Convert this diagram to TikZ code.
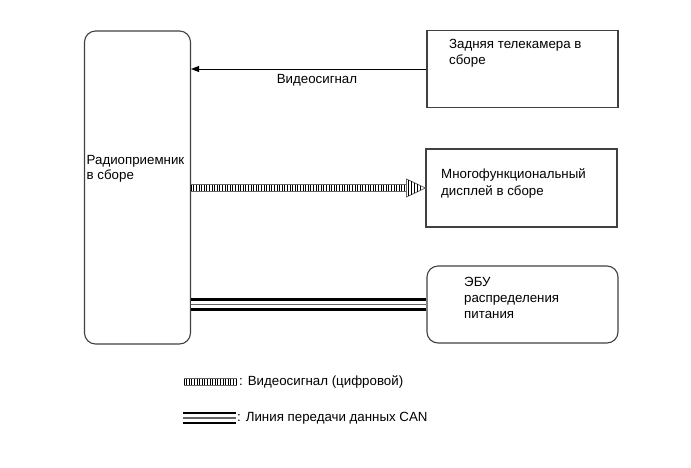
\documentclass[tikz,border=0pt]{standalone}
\usepackage{fontspec}
\setmainfont{Liberation Sans}
\usetikzlibrary{arrows.meta,calc,decorations.pathreplacing}

\tikzset{
  blk/.style={draw=black!75, line width=1.1pt, minimum width=191pt, minimum height=77pt, inner sep=0pt},
  rblk/.style={blk, rounded corners=11pt},
  lbl/.style={inner sep=0pt, align=left, font=\fontsize{13.3}{16}\selectfont},
  vidline/.style={draw=black!60, line width=.8pt, double=white, double distance=5.5pt,
    postaction={decorate, decoration={ticks, segment length=2.6pt, amplitude=3pt}, draw=black, line width=.7pt}},
  canline/.style={draw=black!60, line width=1.1pt,
    preaction={draw=black, line width=12.5pt, postaction={draw=white, line width=7.5pt}}},
  sigline/.style={draw=black, line width=.6pt, -{Triangle[length=8pt,width=6pt]}}
}

\begin{document}
\begin{tikzpicture}[x=1pt, y=-1pt]
\useasboundingbox (0,0) rectangle (691,467);

% blocks
\node[rblk, minimum width=106pt, minimum height=313pt] (radio) at (137.5,187.5) {};
\node[blk] (cam) at (522.5,69) {};
\node[blk, minimum height=78pt] (disp) at (521.5,188) {};
\node[rblk] (ecu) at (522.5,304.5) {};

% block texts
\node[lbl, font=\fontsize{13.3}{14.5}\selectfont, anchor=north west] (radiotxt) at (86.5,155.5) {Радиоприемник\\в сборе};
\node[lbl, anchor=north west] (camtxt) at (449,39) {Задняя телекамера в\\сборе};
\node[lbl, font=\fontsize{13.3}{17}\selectfont, anchor=north west] (disptxt) at (441,168.5) {Многофункциональный\\дисплей в сборе};
\node[lbl, anchor=north west] (ecutxt) at (464,277.5) {ЭБУ\\распределения\\питания};

% video signal
\draw[sigline] (cam.west) -- (cam.west -| radio.east);
\node[lbl] (vidlbl) at (317,80) {Видеосигнал};

% digital video
\coordinate (vtip) at (disp.west);
\draw[vidline] (radio.east |- vtip) -- ($(vtip)+(-19,0)$);
\draw[draw=black!60, line width=.8pt, fill=white] ($(vtip)+(-19,-9)$) -- (vtip) -- ($(vtip)+(-19,9)$) -- cycle;
\foreach \d in {2,5,8,11,14}
  \draw[line width=.7pt] ($(vtip)+(-19+\d,{-9*(1-\d/19)})$) -- ($(vtip)+(-19+\d,{9*(1-\d/19)})$);

% CAN
\draw[canline] (radio.east |- ecu.west) -- (ecu.west);

% legend
\coordinate (lg1a) at (184,382);
\coordinate (lg1b) at (237,382);
\draw[vidline] (lg1a) -- (lg1b);
\node[lbl, anchor=west] (lg1) at (239,382) {: Видеосигнал (цифровой)};
\coordinate (lg2a) at (183,418);
\coordinate (lg2b) at (236,418);
\draw[canline] (lg2a) -- (lg2b);
\node[lbl, anchor=west] (lg2) at (237,418) {: Линия передачи данных CAN};
\end{tikzpicture}
\end{document}
